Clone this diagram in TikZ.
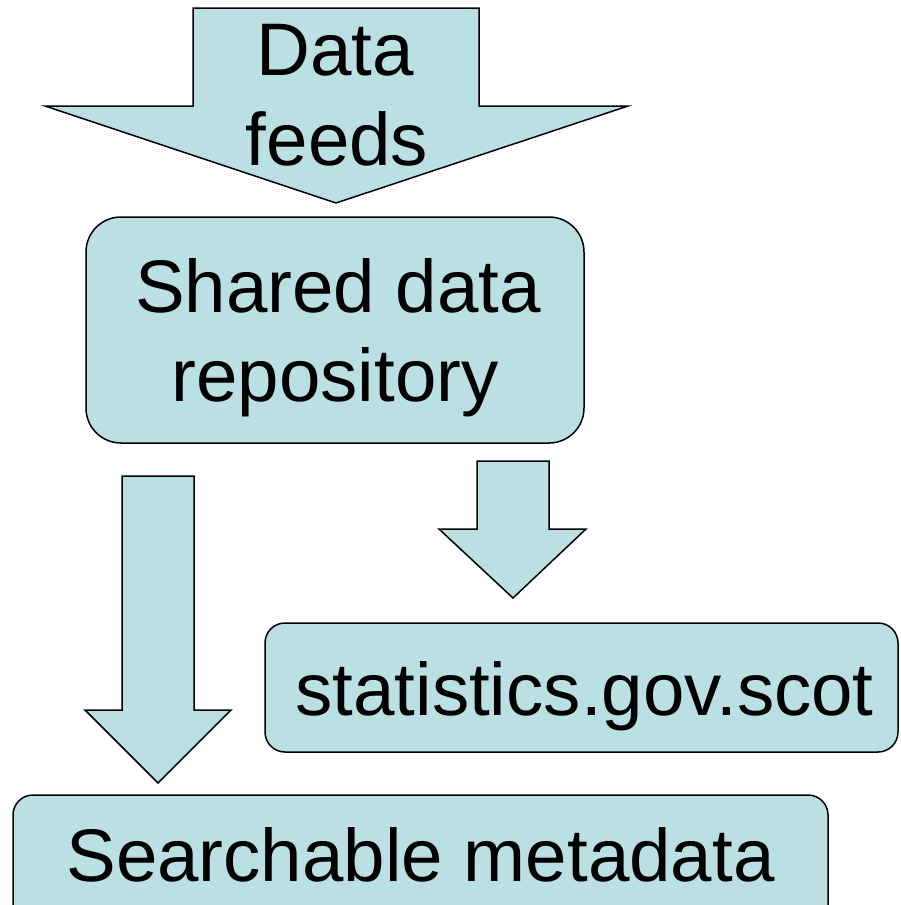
\documentclass[tikz,border=0pt]{standalone}
\usepackage{fontspec}
\setmainfont{Liberation Sans}
\definecolor{boxfill}{RGB}{187,224,227}
\tikzset{
  blk/.style={draw=black, line width=1.5pt, fill=boxfill, line join=miter},
  rbox/.style={blk, inner sep=0pt, outer sep=0pt},
  big/.style={font=\fontsize{74.5}{90}\selectfont, inner sep=0pt, anchor=base},
  bigger/.style={font=\fontsize{74.5}{90}\selectfont, inner sep=0pt, anchor=base}
}
\begin{document}
\begin{tikzpicture}[x=1pt, y=-1pt]
\useasboundingbox (0,0) rectangle (900,905);
\clip (0,0) rectangle (900,905);
% top block arrow
\draw[blk] (193,8) -- (479,8) -- (479,106) -- (628,106) -- (336,203) -- (45,106) -- (193,106) -- cycle;
\node[big] (data) at (335,75) {Data};
\node[big] (feeds) at (337,165) {feeds};
% shared repository box
\node[rbox, rounded corners=35pt, minimum width=498pt, minimum height=226pt] (shared) at (335,330) {};
\node[big] (shared1) at (338,312) {Shared data};
\node[big] (shared2) at (335,401) {repository};
% left and right block arrows
\draw[blk] (122,476) -- (194,476) -- (194,710) -- (231,710) -- (158,783) -- (85,710) -- (122,710) -- cycle;
\draw[blk] (477,461) -- (549,461) -- (549,529) -- (586,529) -- (513,598) -- (439,529) -- (477,529) -- cycle;
% statistics box
\node[rbox, rounded corners=20pt, minimum width=633pt, minimum height=129pt] (stats) at (581.5,687.5) {};
\node[big] (statstxt) at (584.5,715) {statistics.gov.scot};
% searchable metadata box
\node[rbox, rounded corners=20pt, minimum width=815pt, minimum height=130pt] (search) at (420.5,860) {};
\node[bigger] (searchtxt) at (420.5,881) {Searchable metadata};
\end{tikzpicture}
\end{document}
